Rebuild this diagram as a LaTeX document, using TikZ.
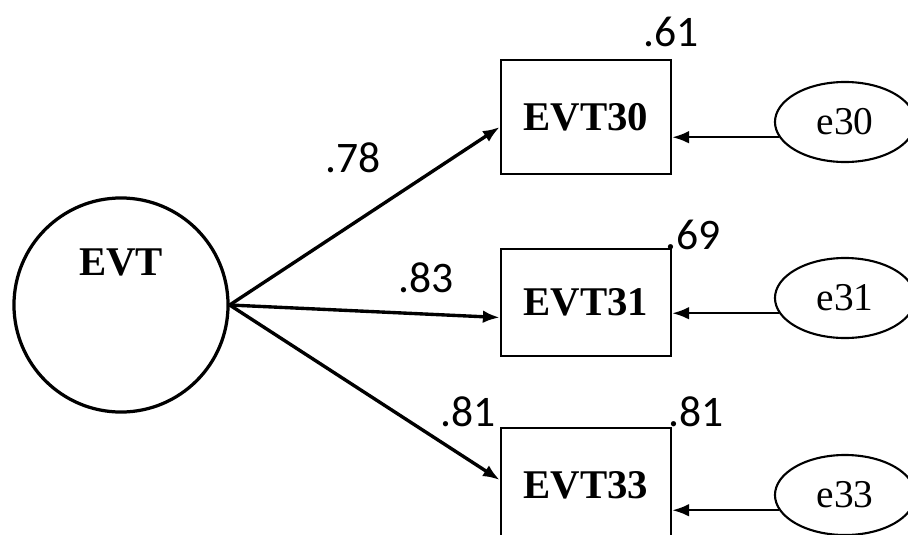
\documentclass[tikz,border=0pt]{standalone}
\usepackage{fontspec}
\setmainfont{Liberation Serif}
\newfontfamily\numfont{Carlito}
\usetikzlibrary{calc}
\usetikzlibrary{shapes.geometric}
\usetikzlibrary{arrows.meta}

\begin{document}
\begin{tikzpicture}[x=0.025cm,y=-0.025cm,inner sep=0pt,
  latent/.style={circle,draw,line width=2.3pt,minimum size=5.35cm},
  observed/.style={rectangle,draw,line width=1.7pt,minimum width=4.25cm,minimum height=2.85cm,font=\fontsize{29}{31}\selectfont\bfseries},
  err/.style={ellipse,draw,line width=1.5pt,minimum width=3.5cm,minimum height=2cm,font=\fontsize{28}{30}\selectfont},
  coef/.style={font=\numfont\fontsize{31}{33}\selectfont},
  load/.style={line width=2.4pt,-{Latex[length=12pt,width=9pt]}},
  resid/.style={line width=1.7pt,-{Latex[length=12pt,width=9pt]}}]
\useasboundingbox (0,0) rectangle (908,534);
\node[latent] (evt) at (121,305) {};
\node[font=\fontsize{29}{31}\selectfont\bfseries] (evtname) at (121,262) {EVT};

\node[observed] (evt30) at (586,117) {EVT30};
\node[observed,minimum height=2.675cm] (evt31) at (586,302.5) {EVT31};
\node[observed] (evt33) at (586,485) {EVT33};

\node[err] (e30) at (845,122) {e30};
\node[err] (e31) at (845,298) {e31};
\node[err] (e33) at (845,495) {e33};

\node[coef] (c78) at (353,158) {.78};
\node[coef] (c83) at (426,278) {.83};
\node[coef] (c81) at (468,412) {.81};
\node[coef] (r61) at (671,32) {.61};
\node[coef] (r69) at (693,235) {.69};
\node[coef] (r81) at (696,412) {.81};

\draw[load] (evt.east) -- ($(evt30.west)+(0,10)$);
\draw[load] (evt.east) -- ($(evt31.west)+(0,15)$);
\draw[load] (evt.east) -- ($(evt33.west)+(0,-5)$);
\draw[resid] (e30.193) -- (e30.193 -| evt30.east);
\draw[resid] (e31.193) -- (e31.193 -| evt31.east);
\draw[resid] (e33.193) -- (e33.193 -| evt33.east);
\end{tikzpicture}
\end{document}
